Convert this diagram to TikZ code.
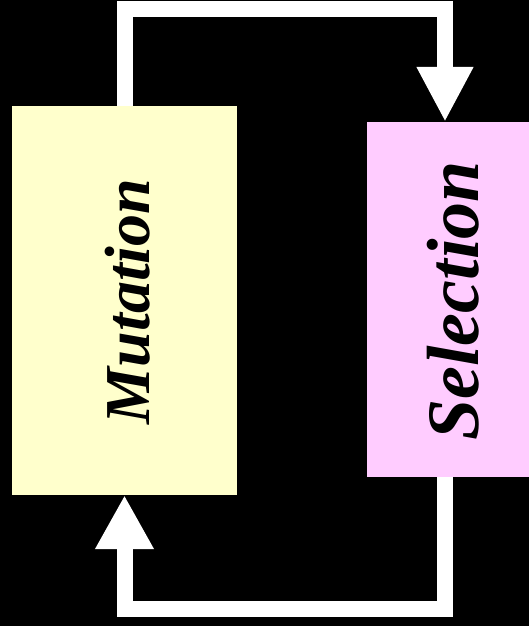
\documentclass[tikz,border=0pt]{standalone}
\usepackage{fontspec}
\setmainfont{Liberation Serif}
\usetikzlibrary{arrows.meta}
\definecolor{mutfill}{HTML}{FFFFCC}
\definecolor{selfill}{HTML}{FFCCFF}

\begin{document}
\begin{tikzpicture}[x=1pt,y=-1pt,
  box/.style={inner sep=0pt},
  flow/.style={draw=white,line width=16pt,line join=miter},
  word/.style={font=\bfseries\itshape,rotate=90,anchor=base,inner sep=0pt}]
  \fill[black] (0,0) rectangle (529,626);
  \useasboundingbox (0,0) rectangle (529,626);
  % the two stages
  \node[box,fill=mutfill,minimum width=225pt,minimum height=389pt] (mutation) at (124.5,300.5) {};
  \node[box,fill=selfill,minimum width=164pt,minimum height=355pt] (selection) at (449,299.5) {};
  \node[word] (mutlabel) at (149,301.5) {\fontsize{64}{64}\selectfont Mutation};
  \node[word] (sellabel) at (478,301) {\fontsize{74}{74}\selectfont Selection};
  % loop between them
  \coordinate (topright) at (445,9.5);
  \coordinate (botright) at (445,608.5);
  \draw[flow,-{Triangle[length=55pt,width=53pt]}] (mutation.north) |- (topright) -- (topright |- selection.north);
  \draw[flow,-{Triangle[length=54pt,width=55pt]}] (botright |- selection.south) -- (botright) -| (mutation.south);
\end{tikzpicture}
\end{document}
